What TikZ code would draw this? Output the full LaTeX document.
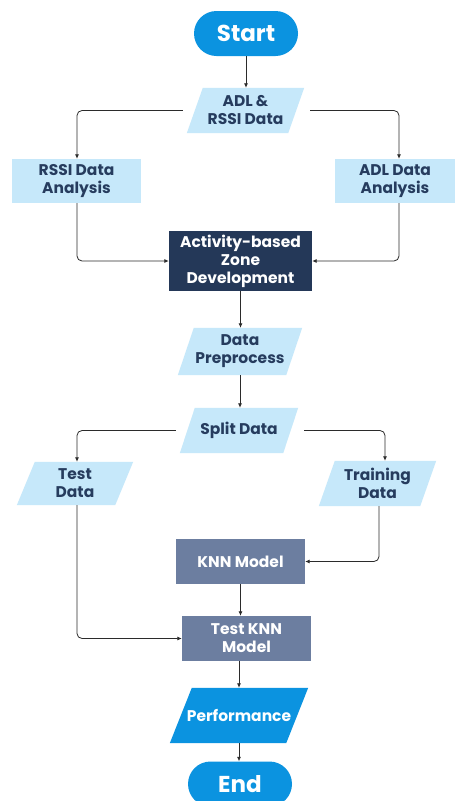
\documentclass[tikz,border=0pt]{standalone}
\usepackage{fontspec}
\setmainfont{Poppins}
\usetikzlibrary{arrows.meta,backgrounds,calc}
\definecolor{lightbl}{HTML}{C6E8FA}
\definecolor{brightbl}{HTML}{0B93E0}
\definecolor{navy}{HTML}{243858}
\definecolor{slate}{HTML}{6C7EA0}
\definecolor{txtnavy}{HTML}{263C5E}
\definecolor{linec}{HTML}{2B2B2B}
\begin{document}
\begin{tikzpicture}[x=1pt,y=-1pt,
  base/.style={inner sep=0pt,align=center,font=\bfseries\fontsize{15.5}{18}\selectfont},
  term/.style={base,rectangle,rounded corners=22.5pt,fill=brightbl,text=white,minimum width=104pt,minimum height=45pt,font=\bfseries\fontsize{23}{26}\selectfont},
  lbox/.style={base,rectangle,fill=lightbl,text=txtnavy},
  dbox/.style={base,rectangle,fill=navy,text=white},
  sbox/.style={base,rectangle,fill=slate,text=white},
  para/.style={base,rectangle,text=txtnavy},
  conn/.style={draw=linec,line width=0.8pt,-{Latex[length=4.5pt,width=4pt]},rounded corners=5pt}
]
\useasboundingbox (0,0) rectangle (456,801);

% nodes
\node[term] (start) at (246,33.5) {Start};
\node[para,minimum width=117pt,minimum height=45pt] (adl) at (245.5,110.5) {ADL \&\\RSSI Data};
\node[lbox,minimum width=129pt,minimum height=44pt] (rssi) at (76.5,181) {RSSI Data\\Analysis};
\node[lbox,minimum width=120pt,minimum height=44pt] (adla) at (395,181) {ADL Data\\Analysis};
\node[dbox,minimum width=143pt,minimum height=60pt] (zone) at (240.5,261) {Activity-based\\Zone\\Development};
\node[para,minimum width=124pt,minimum height=47pt] (prep) at (240,351.5) {Data\\Preprocess};
\node[para,minimum width=118pt,minimum height=45pt] (split) at (239,430.5) {Split Data};
\node[para,minimum width=116pt,minimum height=43pt] (test) at (75,483.5) {Test\\Data};
\node[para,minimum width=117pt,minimum height=45pt] (train) at (377.5,483.5) {Training\\Data};
\node[sbox,minimum width=129pt,minimum height=45pt] (knn) at (240.5,561.5) {KNN Model};
\node[sbox,minimum width=129pt,minimum height=45pt] (tknn) at (246.5,638.5) {Test KNN\\Model};
\node[para,text=white,minimum width=138pt,minimum height=55pt] (perf) at (239,715.5) {Performance};
\node[term] (end) at (240,784) {End};

% background and parallelogram fills
\begin{scope}[on background layer]
\fill[white] (0,0) rectangle (456,801);
\foreach \n/\s/\c in {adl/16/lightbl,prep/16/lightbl,split/15/lightbl,test/18/lightbl,train/16/lightbl,perf/22/brightbl}{
  \fill[\c] ([xshift=\s pt]\n.north west) -- (\n.north east) -- ([xshift=-\s pt]\n.south east) -- (\n.south west) -- cycle;
}
\end{scope}

% connectors
\draw[conn] (start.south) -- (start.south |- adl.north);
\draw[conn] ([xshift=-4pt]adl.west) -| ([xshift=0.5pt]rssi.north);
\draw[conn] ([xshift=6pt]adl.east) -| ([xshift=4pt]adla.north);
\draw[conn] ([xshift=0.5pt]rssi.south) |- (zone.west);
\draw[conn] ([xshift=4pt]adla.south) |- (zone.east);
\draw[conn] (zone.south) -- (zone.south |- prep.north);
\draw[conn] (prep.south) -- (prep.south |- split.north);
\draw[conn] ([xshift=-4pt]split.west) -| ([xshift=2pt]test.north);
\draw[conn] ([xshift=6pt]split.east) -| ([xshift=7.5pt]train.north);
\draw[conn] ([xshift=1.5pt]train.south) |- (knn.east);
\draw[conn] ([xshift=2pt]test.south) |- (tknn.west);
\draw[conn] (knn.south) -- (knn.south |- tknn.north);
\draw[conn] (perf.north |- tknn.south) -- (perf.north);
\draw[conn] (perf.south) -- (perf.south |- end.north);
\end{tikzpicture}
\end{document}
